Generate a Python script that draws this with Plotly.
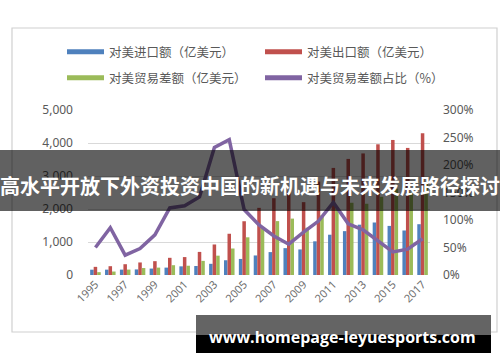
import plotly.graph_objects as go

years = [str(y) for y in range(1995, 2018)]
imports_us = [161, 162, 163, 169, 195, 224, 262, 272, 339, 447, 487, 592, 694, 814, 775, 1021, 1221, 1329, 1525, 1591, 1488, 1349, 1539]
exports_us = [247, 267, 327, 380, 419, 521, 543, 700, 925, 1250, 1629, 2035, 2327, 2523, 2208, 2833, 3245, 3518, 3684, 3961, 4092, 3851, 4298]
balance_us = [86, 105, 164, 211, 224, 297, 281, 428, 586, 803, 1142, 1443, 1633, 1709, 1433, 1813, 2023, 2189, 2159, 2370, 2614, 2508, 2758]
balance_ratio = [50, 86, 36, 48, 73, 122, 126, 142, 232, 246, 119, 91, 71, 56, 78, 98, 132, 93, 82, 62, 42, 47, 66]
x_ticks = [str(y) for y in range(1995, 2018, 2)]

names = ["对美进口额（亿美元）", "对美出口额（亿美元）", "对美贸易差额（亿美元）", "对美贸易差额占比（%）"]
colors = ["#4F81BD", "#C0504D", "#9BBB59", "#8064A2"]

W, H = 500, 362
L, R, T, B = 88, 430, 110, 275

def px(x):
    return (x - L) / (R - L)

def py(y):
    return (B - y) / (B - T)

fig = go.Figure()
for vals, c in zip([imports_us, exports_us, balance_us], colors[:3]):
    fig.add_trace(go.Bar(x=years, y=vals, marker=dict(color=c, line=dict(width=0)),
                         showlegend=False, yaxis="y"))
fig.add_trace(go.Scatter(x=years, y=balance_ratio, mode="lines", yaxis="y2",
                         line=dict(color=colors[3], width=3.5), showlegend=False))

# legend entries
for i, (n, c) in enumerate(zip(names, colors)):
    fig.add_trace(go.Scatter(x=[None], y=[None], mode="lines", name=n,
                             line=dict(color=c, width=5),
                             legend="legend" if i < 2 else "legend2"))

font_leg = dict(family="Noto Sans CJK SC", size=12.5, color="#595959")
leg_common = dict(orientation="h", xanchor="left", yanchor="middle", font=font_leg,
                  itemwidth=37, entrywidth=146, entrywidthmode="pixels",
                  bgcolor="rgba(0,0,0,0)", itemclick=False)

fig.update_layout(
    width=W, height=H,
    margin=dict(l=L, r=W - R, t=T, b=H - B),
    paper_bgcolor="white", plot_bgcolor="white",
    barmode="group", bargap=0.29, bargroupgap=0,
    font=dict(family="Noto Sans", size=11, color="#595959"),
    xaxis=dict(type="category", tickvals=x_ticks, tickangle=-45, showgrid=False,
               showline=False, ticks="", tickfont=dict(size=11, color="#6E6E6E")),
    yaxis=dict(range=[0, 5000], dtick=1000, tickformat=",d", showgrid=True,
               gridcolor="#D9D9D9", gridwidth=1, zeroline=False, showline=False,
               tickfont=dict(size=12, color="#595959"), ticks="", ticklabelstandoff=14),
    yaxis2=dict(range=[0, 300], dtick=50, ticksuffix="%", overlaying="y", side="right",
                showgrid=False, zeroline=False, showline=False,
                tickfont=dict(size=12, color="#595959"), ticks="", ticklabelstandoff=12),
    legend=dict(x=px(62), y=py(52), **leg_common),
    legend2=dict(x=px(62), y=py(78), **leg_common),
    showlegend=True,
)

shapes = [
    dict(type="rect", xref="paper", yref="paper", x0=px(12), x1=px(497), y0=py(332), y1=py(28),
         line=dict(color="#D0D0D0", width=1.2), fillcolor="rgba(0,0,0,0)", layer="below"),
    dict(type="rect", xref="paper", yref="paper", x0=px(0), x1=px(500), y0=py(211), y1=py(150),
         line=dict(width=0), fillcolor="rgba(0,0,0,0.62)", layer="above"),
    dict(type="rect", xref="paper", yref="paper", x0=px(196), x1=px(491), y0=py(335), y1=py(315),
         line=dict(width=0), fillcolor="#646464", layer="above"),
    dict(type="rect", xref="paper", yref="paper", x0=px(196), x1=px(491), y0=py(353), y1=py(335),
         line=dict(width=0), fillcolor="#000000", layer="above"),
]
fig.update_layout(shapes=shapes)

fig.add_annotation(text="<b>高水平开放下外资投资中国的新机遇与未来发展路径探讨</b>", xref="paper", yref="paper",
                   x=px(250), y=py(185), xanchor="center", yanchor="middle", showarrow=False,
                   font=dict(family="Noto Sans CJK SC", size=20, color="white"))
fig.add_annotation(text="<b>www.homepage-leyuesports.com</b>", xref="paper", yref="paper",
                   x=px(342.5), y=py(336.5), xanchor="center", yanchor="middle", showarrow=False,
                   font=dict(family="Open Sans", size=16, color="white"))

fig.write_html("out.html", config={"displayModeBar": False},
               post_script="document.body.style.margin='0';")
